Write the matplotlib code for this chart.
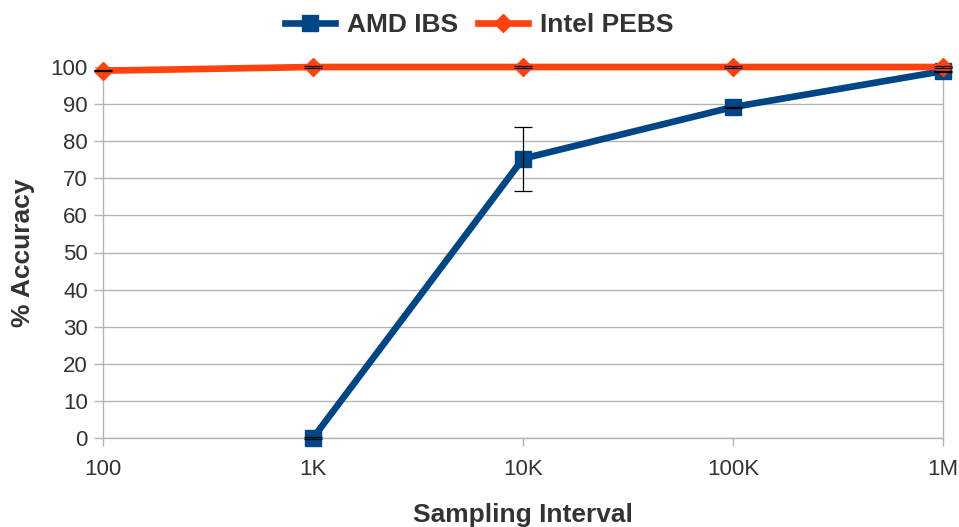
import numpy as np
import matplotlib
matplotlib.use('Agg')
import matplotlib.pyplot as plt
plt.rcParams['font.family'] = ['Liberation Sans', 'DejaVu Sans']

# data
intervals = ['100', '1K', '10K', '100K', '1M']
amd_ibs = [np.nan, 0, 75.3, 89.2, 98.9]
amd_err = [0, 0.15, 8.6, 0.15, 0.15]
intel_pebs = [99.0, 100, 100, 100, 100]
intel_err = [0.15, 0.15, 0.15, 0.15, 0.15]

amd_color = '#004586'
intel_color = '#ff420e'
grid_color = '#b3b3b3'
text_color = '#333333'

fig = plt.figure(figsize=(9.59, 5.27), dpi=100)
ax = fig.add_axes([103/959, 1-438/527, 840/959, 371/527])

x = np.arange(len(intervals))
ax.plot(x, amd_ibs, '-s', color=amd_color, lw=4.8, ms=11.5, label='AMD IBS',
        clip_on=False, zorder=3)
ax.plot(x, intel_pebs, '-D', color=intel_color, lw=4.8, ms=9.5, label='Intel PEBS',
        clip_on=False, zorder=3)
ax.errorbar(x, amd_ibs, yerr=amd_err, fmt='none', ecolor='black', elinewidth=0.9,
            capsize=6.5, capthick=0.9, zorder=4, clip_on=False)
ax.errorbar(x, intel_pebs, yerr=intel_err, fmt='none', ecolor='black', elinewidth=0.9,
            capsize=6.5, capthick=0.9, zorder=4, clip_on=False)

ax.set_xlim(0, len(intervals) - 1)
ax.set_ylim(0, 100)
ax.set_yticks(range(0, 101, 10))
ax.set_xticks(x)
ax.set_xticklabels(intervals)
ax.yaxis.grid(True, color=grid_color, lw=1)
ax.set_axisbelow(True)

for side in ['left', 'right', 'bottom']:
    ax.spines[side].set_color(grid_color)
    ax.spines[side].set_linewidth(1)
ax.spines['top'].set_visible(False)
ax.tick_params(axis='both', colors=grid_color, labelcolor=text_color,
               labelsize=16, width=1)
ax.tick_params(axis='x', length=6, pad=9)
ax.tick_params(axis='y', length=6.8, pad=4)

ax.set_xlabel('Sampling Interval', fontsize=19, fontweight='bold',
              color=text_color, labelpad=17)
ax.set_ylabel('% Accuracy', fontsize=19, fontweight='bold',
              color=text_color, labelpad=11)

leg = fig.legend(loc='upper center', bbox_to_anchor=(0.5, 1.02), ncol=2,
                 frameon=False, fontsize=19, handlelength=1.9,
                 columnspacing=0.75, handletextpad=0.45)
for t in leg.get_texts():
    t.set_fontweight('bold')
    t.set_color(text_color)

fig.savefig('out.png', dpi=100)
